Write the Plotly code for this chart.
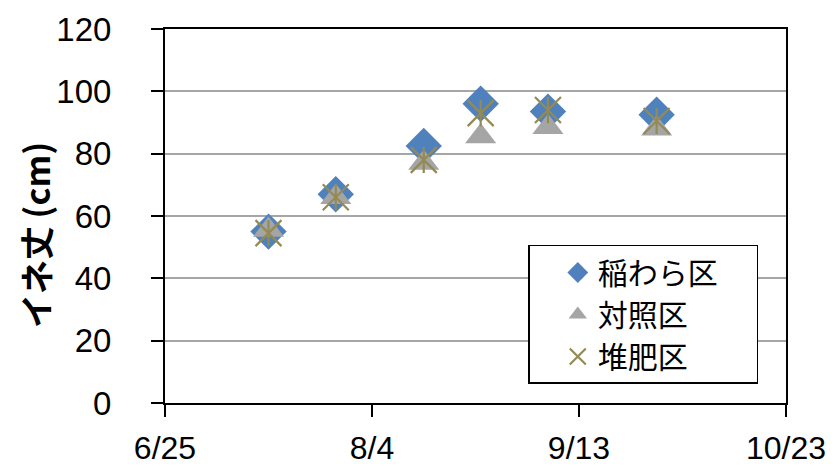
import plotly.graph_objects as go

dates = ["2023-07-15", "2023-07-28", "2023-08-14", "2023-08-25", "2023-09-07", "2023-09-28"]
inawara = [55, 67, 82.5, 96, 93.5, 92.5]
taisho = [55.5, 66, 77, 85.5, 88.5, 88]
taihi = [54.5, 66, 78, 93, 94, 90.5]

tick_vals = ["2023-06-25", "2023-08-04", "2023-09-13", "2023-10-23"]
tick_text = ["6/25", "8/4", "9/13", "10/23"]

OLIVE = "#948A54"
PAD = "&nbsp;" * 5

fig = go.Figure()
fig.add_trace(go.Scatter(x=dates, y=inawara, mode="markers", name="稲わら区" + PAD,
                         marker=dict(symbol="diamond", size=28, color="#4F81BD")))
fig.add_trace(go.Scatter(x=dates, y=taisho, mode="markers", name="対照区",
                         marker=dict(symbol="triangle-up", size=27, color="#A5A5A5")))
fig.add_trace(go.Scatter(x=dates, y=taihi, mode="markers", name="堆肥区",
                         marker=dict(symbol="x-thin-open", size=26, color=OLIVE,
                                     line=dict(color=OLIVE, width=2.2)),
                         error_y=dict(type="constant", value=4.2, width=0,
                                      thickness=2.2, color=OLIVE)))

# body has an 8px margin in the browser: compensate in the figure margins
fig.update_layout(
    width=837, height=471,
    margin=dict(l=157, r=59, t=21, b=76, autoexpand=False),
    paper_bgcolor="white", plot_bgcolor="white",
    font=dict(family="Liberation Sans, Arial, sans-serif", color="black", size=32),
    showlegend=True,
    legend=dict(x=0.585, y=0.4225, xanchor="left", yanchor="top",
                bordercolor="black", borderwidth=1.5, bgcolor="white",
                font=dict(family="Noto Sans CJK JP, sans-serif", size=30),
                itemsizing="trace", tracegroupgap=0, indentation=28),
    annotations=[dict(
        text="<b>イネ丈 (cm)</b>",
        xref="paper", yref="paper", x=-0.2093, y=0.449,
        xanchor="center", yanchor="middle", textangle=-90, showarrow=False,
        font=dict(family="Noto Sans CJK JP, sans-serif", size=34, color="black"),
    )],
)
fig.update_xaxes(
    type="date", range=["2023-06-25", "2023-10-23"],
    tickvals=tick_vals, ticktext=tick_text, automargin=False,
    showline=True, linecolor="black", linewidth=2, mirror=True,
    ticks="outside", ticklen=12, tickwidth=2, tickcolor="black",
    showgrid=False, zeroline=False,
    tickfont=dict(size=32), ticklabelstandoff=4,
)
fig.update_yaxes(
    range=[0, 120], dtick=20, automargin=False,
    showline=True, linecolor="black", linewidth=2, mirror=True,
    ticks="outside", ticklen=12, tickwidth=2, tickcolor="black",
    showgrid=True, gridcolor="#A6A6A6", gridwidth=2, zeroline=False,
    tickfont=dict(size=33), ticklabelstandoff=33,
)

fig.write_html("out.html")
